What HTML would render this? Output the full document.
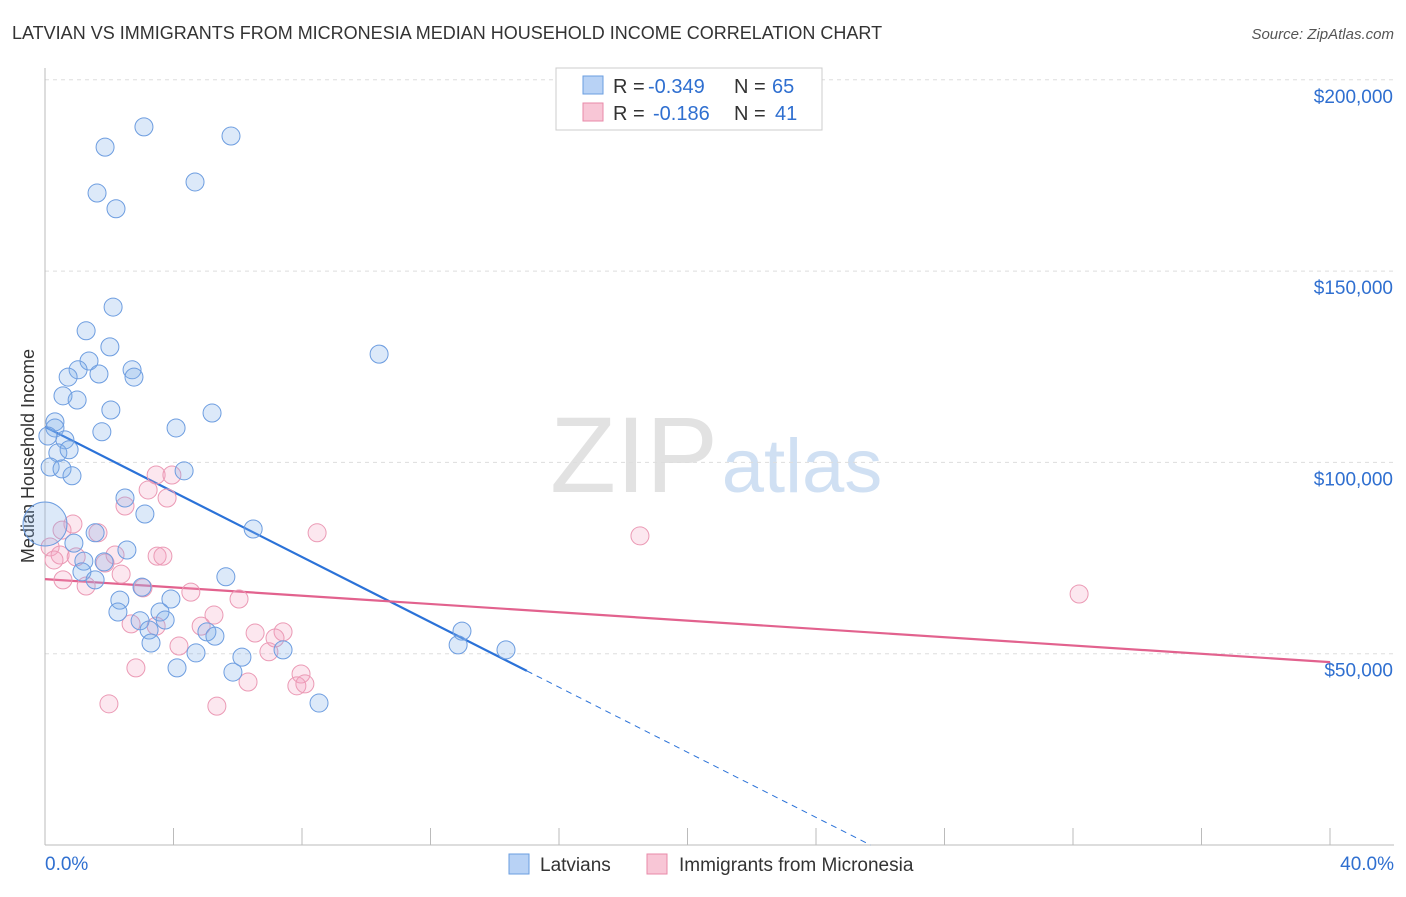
<!DOCTYPE html>
<html><head><meta charset="utf-8"><style>
body{margin:0;background:#fff;font-family:"Liberation Sans",sans-serif;}
svg text{font-family:"Liberation Sans",sans-serif;}
</style></head><body>
<svg id="chart" width="1406" height="892" xmlns="http://www.w3.org/2000/svg">
<text x="12" y="39" font-size="18" fill="#333">LATVIAN VS IMMIGRANTS FROM MICRONESIA MEDIAN HOUSEHOLD INCOME CORRELATION CHART</text>
<text x="1394" y="39" font-size="15" fill="#555" text-anchor="end" font-style="italic">Source: ZipAtlas.com</text>
<text x="0" y="0" transform="translate(34,456) rotate(-90)" font-size="18" fill="#333" text-anchor="middle">Median Household Income</text>
<g><text x="634" y="492" font-size="108" fill="#e2e2e2" text-anchor="middle" font-family="Liberation Serif">ZIP</text><text x="802" y="492" font-size="76" fill="#d0e0f3" text-anchor="middle">atlas</text></g>
<g id="grid"></g><g id="axes"></g><g id="trends"></g><g id="pts"></g>
<g>
<rect x="556" y="68" width="266" height="62" fill="#fff" stroke="#ccc"/>
<rect x="583" y="76" width="20" height="18" fill="#b8d2f5" stroke="#6a9ee0"/>
<text x="613" y="93" font-size="20" fill="#333">R =</text>
<text x="648" y="93" font-size="20" fill="#2f6fd0">-0.349</text>
<text x="734" y="93" font-size="20" fill="#333">N =</text>
<text x="772" y="93" font-size="20" fill="#2f6fd0">65</text>
<rect x="583" y="103" width="20" height="18" fill="#f8c6d6" stroke="#e88aa8"/>
<text x="613" y="120" font-size="20" fill="#333">R =</text>
<text x="653" y="120" font-size="20" fill="#2f6fd0">-0.186</text>
<text x="734" y="120" font-size="20" fill="#333">N =</text>
<text x="775" y="120" font-size="20" fill="#2f6fd0">41</text>
</g>
<g>
<rect x="509" y="854" width="20" height="20" fill="#b8d2f5" stroke="#6a9ee0"/>
<text x="540" y="871" font-size="19" fill="#333">Latvians</text>
<rect x="647" y="854" width="20" height="20" fill="#f8c6d6" stroke="#e88aa8"/>
<text x="679" y="871" font-size="19" fill="#333">Immigrants from Micronesia</text>
</g>
</svg>
<script>
const yTicks=[50000,100000,150000,200000];
const yTickLabels=["$50,000","$100,000","$150,000","$200,000"];
const xEdgeLabels=["0.0%","40.0%"];
const blueX=[3.08,1.87,5.79,1.62,2.21,4.67,2.12,1.28,2.02,1.37,1.03,1.68,0.72,2.71,2.77,0.56,1.00,2.05,5.20,0.31,1.77,4.08,10.40,0.31,0.62,0.09,0.40,0.75,0.16,0.53,0.84,4.33,2.49,3.11,6.48,0.0,1.56,0.90,2.55,1.21,1.84,1.15,1.56,3.02,5.63,2.33,3.92,2.27,3.58,2.96,3.74,3.24,5.04,5.29,3.30,12.98,12.86,14.35,4.70,7.41,6.13,4.11,5.85,8.53];
const blueY=[187.7,182.4,185.3,170.4,166.3,173.3,140.6,134.4,130.2,126.5,124.2,123.1,122.3,124.2,122.3,117.4,116.3,113.7,112.9,110.6,108.0,109.0,128.3,109.0,105.9,106.9,102.5,103.3,98.8,98.3,96.5,97.8,90.7,86.5,82.6,83.9,81.6,78.9,77.1,74.2,74.0,71.4,69.3,67.4,70.1,64.0,64.3,60.9,60.9,58.6,58.8,56.2,55.7,54.6,52.8,55.9,52.3,51.0,50.2,51.0,49.1,46.3,45.2,37.1];
const pinkX=[3.46,3.95,3.21,3.80,2.49,8.47,18.52,0.87,0.53,1.65,0.16,0.47,0.97,0.28,1.87,2.18,3.49,3.67,2.37,0.56,1.28,3.05,4.54,6.04,5.26,4.86,3.46,2.68,6.54,7.41,4.17,7.16,6.97,7.97,7.84,8.09,6.32,2.83,1.99,5.35,32.19];
const pinkY=[96.7,96.7,92.8,90.7,88.6,81.6,80.8,83.9,82.3,81.6,77.9,75.8,75.3,74.5,73.7,75.8,75.5,75.5,70.8,69.3,67.7,67.2,66.1,64.3,60.1,57.2,57.2,57.8,55.4,55.7,52.0,54.1,50.5,44.7,41.6,42.1,42.6,46.3,36.9,36.3,65.6];
const blueTrend=[109.3,45.5];const blueTrendX=[0,15.0];
const pinkTrend=[69.5,47.8];const pinkTrendX=[0,40];
const NS="http://www.w3.org/2000/svg";
const X=v=>45+v/40*1285, Y=v=>845-v/1000*191.3/50;
const YK=v=>Y(v*1000);
function mk(t,a,p){const e=document.createElementNS(NS,t);for(const k in a)e.setAttribute(k,a[k]);p.appendChild(e);return e;}
const grid=document.getElementById('grid'),axes=document.getElementById('axes');
yTicks.forEach((v,i)=>{
 const l=mk('line',{x1:45,x2:1394,y1:Y(v),y2:Y(v),stroke:'#ddd','stroke-dasharray':'4,4'},grid);
 
 
 const t=mk('text',{x:1393,y:Y(v)+23,'font-size':19,fill:'#2f6fd0','text-anchor':'end'},axes);
 t.textContent=yTickLabels[i];
 
 
});
const ya=mk('line',{x1:45,x2:45,y1:68,y2:845,stroke:'#bbb'},axes);


const xa=mk('line',{x1:45,x2:1394,y1:845,y2:845,stroke:'#bbb'},axes);


for(let i=1;i<=10;i++){const tk=mk('line',{x1:X(i*4),x2:X(i*4),y1:828,y2:845,stroke:'#bbb'},axes);
 
 }
[[0,'start',45],[40,'end',1394]].forEach((d,i)=>{const t=mk('text',{x:d[2],y:870,'font-size':19,fill:'#2f6fd0','text-anchor':d[1]},axes);t.textContent=xEdgeLabels[i];
 
 });
const pts=document.getElementById('pts');
function dots(xs,ys,fill,stroke,name){xs.forEach((x,i)=>{const big=(x===0&&ys[i]<90&&name==='latvian-point');
 const c=mk('circle',{cx:X(x),cy:YK(ys[i]),r:big?22:9,fill:fill,stroke:stroke,'stroke-width':1},pts);
 
 });}
dots(pinkX,pinkY,'rgba(245,160,190,0.25)','#eb9ab5','micronesia-point');
dots(blueX,blueY,'rgba(130,175,235,0.28)','#6d9de0','latvian-point');
const tr=document.getElementById('trends');
const bl=mk('line',{x1:X(blueTrendX[0]),y1:YK(blueTrend[0]),x2:X(blueTrendX[1]),y2:YK(blueTrend[1]),stroke:'#2b72d8','stroke-width':2.2},tr);


const sl=(blueTrend[1]-blueTrend[0])/(blueTrendX[1]-blueTrendX[0]);const x0=-blueTrend[0]/sl;
const bd=mk('line',{x1:X(blueTrendX[1]),y1:YK(blueTrend[1]),x2:X(x0),y2:YK(0),stroke:'#2b72d8','stroke-width':1,'stroke-dasharray':'6,5'},tr);


const pl=mk('line',{x1:X(pinkTrendX[0]),y1:YK(pinkTrend[0]),x2:X(pinkTrendX[1]),y2:YK(pinkTrend[1]),stroke:'#e2628e','stroke-width':2.2},tr);


</script>
</body></html>
